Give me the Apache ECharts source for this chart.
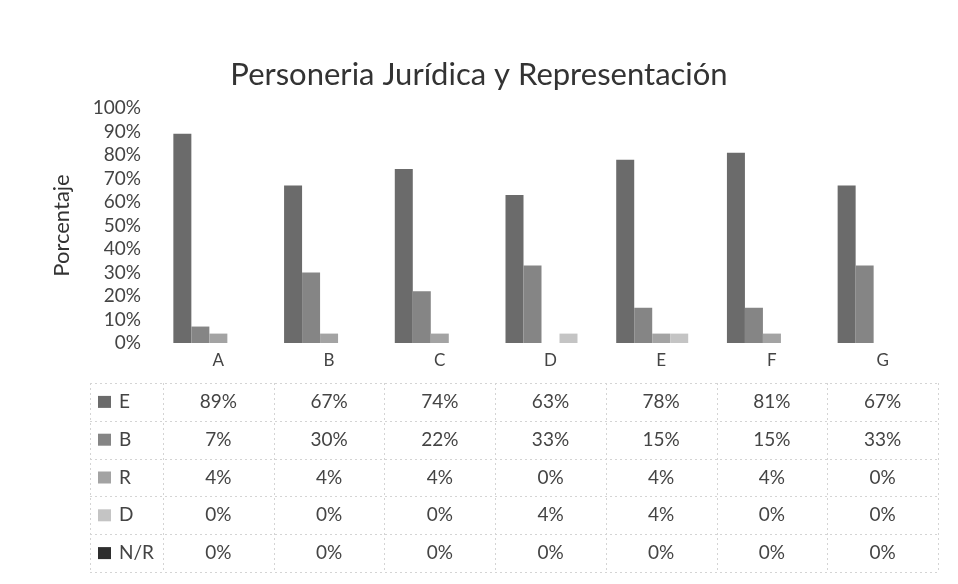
<!DOCTYPE html>
<html>
<head>
<meta charset="utf-8">
<script src="https://cdn.jsdelivr.net/npm/echarts@6/dist/echarts.min.js"></script>
<style>
  html, body { margin: 0; padding: 0; background: #fff; }
  #chart { width: 958px; height: 584px; }
</style>
</head>
<body>
<div id="chart"></div>
<script>
'use strict';
// datos
var categorias = ['A', 'B', 'C', 'D', 'E', 'F', 'G'];
var serieNombres = ['E', 'B', 'R', 'D', 'N/R'];
var valoresE = [89, 67, 74, 63, 78, 81, 67];
var valoresB = [7, 30, 22, 33, 15, 15, 33];
var valoresR = [4, 4, 4, 0, 4, 4, 0];
var valoresD = [0, 0, 0, 4, 4, 0, 0];
var valoresNR = [0, 0, 0, 0, 0, 0, 0];
var ticksY = [0, 10, 20, 30, 40, 50, 60, 70, 80, 90, 100];

var colores = ['#6b6b6b', '#858585', '#a3a3a3', '#c4c4c4', '#2e2e2e'];
var series = [valoresE, valoresB, valoresR, valoresD, valoresNR];
var fuente = 'Lato, "Open Sans", sans-serif';

var myChart = echarts.init(document.getElementById('chart'));

var option = {
    backgroundColor: '#fff',
    animation: false,
    title: {
        text: 'Personeria Jurídica y Representación',
        left: 'center',
        top: 54,
        textStyle: { fontFamily: fuente, fontWeight: 'normal', fontSize: 31, color: '#333' }
    },
    grid: { left: 163, right: 20, top: 108, bottom: 241 },
    xAxis: {
        type: 'category',
        data: categorias,
        axisLine: { show: false },
        axisTick: { show: false },
        axisLabel: { margin: 9, fontFamily: fuente, fontSize: 17, color: '#444' }
    },
    yAxis: {
        type: 'value',
        min: ticksY[0],
        max: ticksY[ticksY.length - 1],
        interval: 10,
        name: 'Porcentaje',
        nameLocation: 'middle',
        nameRotate: 90,
        nameGap: 90,
        nameTextStyle: { fontFamily: fuente, fontSize: 22, color: '#333' },
        splitLine: { show: false },
        axisLine: { show: false },
        axisTick: { show: false },
        axisLabel: { margin: 22, formatter: '{value}%', fontFamily: fuente, fontSize: 19, color: '#444' }
    },
    series: serieNombres.map(function (nombre, i) {
        return {
            name: nombre,
            type: 'bar',
            data: series[i],
            barWidth: 18,
            barGap: '0%',
            itemStyle: { color: colores[i] }
        };
    })
};
myChart.setOption(option);

// tabla de datos debajo del grafico
function construirTabla() {
    var graficos = [];
    var filaY0 = 383;
    var altoFila = 37.8;
    var anchoCat = myChart.convertToPixel({ xAxisIndex: 0 }, 1) - myChart.convertToPixel({ xAxisIndex: 0 }, 0);
    var xIni = myChart.convertToPixel({ xAxisIndex: 0 }, 0) - anchoCat / 2;
    var xFin = xIni + anchoCat * categorias.length;
    var bordeIzq = 90;
    var lineaEstilo = { stroke: '#d4d4d4', lineWidth: 1, lineDash: [2, 3] };

    // lineas horizontales
    for (var r = 0; r <= serieNombres.length; r++) {
        var y = Math.round(filaY0 + r * altoFila) + 0.5;
        graficos.push({ type: 'line', shape: { x1: bordeIzq, y1: y, x2: xFin, y2: y }, style: lineaEstilo, silent: true });
    }
    // lineas verticales
    var yFin = filaY0 + serieNombres.length * altoFila;
    graficos.push({ type: 'line', shape: { x1: bordeIzq + 0.5, y1: filaY0, x2: bordeIzq + 0.5, y2: yFin }, style: lineaEstilo, silent: true });
    for (var c = 0; c <= categorias.length; c++) {
        var x = Math.round(xIni + c * anchoCat) + 0.5;
        graficos.push({ type: 'line', shape: { x1: x, y1: filaY0, x2: x, y2: yFin }, style: lineaEstilo, silent: true });
    }

    serieNombres.forEach(function (nombre, i) {
        var cy = filaY0 + (i + 0.5) * altoFila;
        graficos.push({ type: 'rect', shape: { x: 98, y: cy - 6, width: 13, height: 12 }, style: { fill: colores[i] }, silent: true });
        graficos.push({
            type: 'text', x: 119, y: cy,
            style: { text: nombre, fill: '#444', font: '19px ' + fuente, verticalAlign: 'middle', align: 'left' },
            silent: true
        });
        series[i].forEach(function (v, j) {
            graficos.push({
                type: 'text', x: myChart.convertToPixel({ xAxisIndex: 0 }, j), y: cy,
                style: { text: v + '%', fill: '#444', font: '19px ' + fuente, verticalAlign: 'middle', align: 'center' },
                silent: true
            });
        });
    });
    myChart.setOption({ graphic: graficos });
}
construirTabla();
</script>
</body>
</html>
